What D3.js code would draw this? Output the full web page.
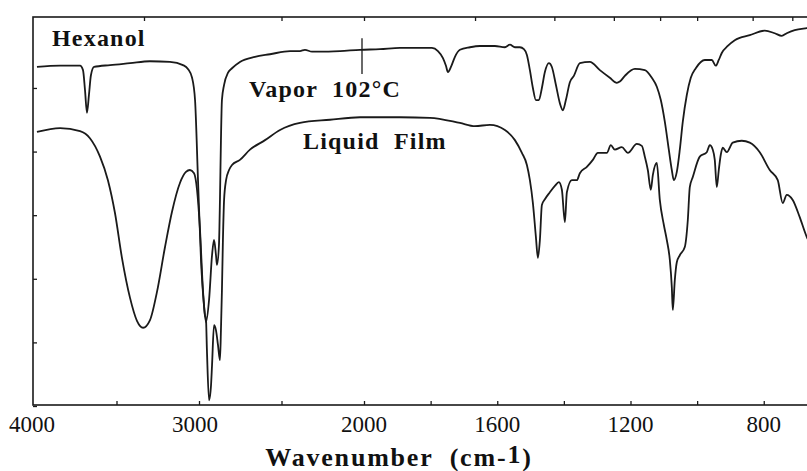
<!DOCTYPE html>
<html>
<head>
<meta charset="utf-8">
<script src="https://cdn.jsdelivr.net/npm/d3@7"></script>
<style>
  html, body { margin: 0; padding: 0; background: #fff; }
  svg { display: block; }
  text { font-family: "Liberation Serif", "Times New Roman", serif; fill: #111; white-space: pre; }
</style>
</head>
<body>
<svg id="chart" width="807" height="471"></svg>
<script>
// Hexanol IR spectra: vapour at 102 °C and liquid film.
// Each series: [wavenumber (cm-1), transmittance (arbitrary chart units)]
const vaporSpectrum = [
  [3982,53.3],[3842,53.5],[3721,53.5],[3703,52.8],[3691,49.7],[3679,46.1],[3667,48.9],[3655,52.0],[3636,53.3],
  [3539,53.6],[3418,53.9],[3297,54.2],[3176,54.1],[3097,53.6],[3067,53.0],[3042,51.6],[3024,48.1],[3006,35.5],
  [2988,23.0],[2970,15.9],[2958,13.2],[2939,16.7],[2921,23.7],[2909,26.1],[2897,23.7],[2891,22.2],[2879,25.3],
  [2873,32.4],[2867,41.8],[2861,48.1],[2848,50.5],[2824,52.4],[2800,53.1],[2752,54.1],[2661,54.9],[2570,55.3],
  [2448,55.8],[2388,55.8],[2358,56.0],[2315,55.7],[2267,55.7],[2145,55.8],[2024,56.0],[1952,56.1],[1892,56.3],
  [1832,56.3],[1796,56.3],[1778,55.8],[1763,54.7],[1754,53.5],[1748,52.5],[1739,53.3],[1727,54.9],[1712,56.0],
  [1682,56.4],[1652,56.6],[1607,56.6],[1577,56.4],[1562,56.8],[1547,56.4],[1532,56.4],[1520,56.1],[1511,55.2],
  [1502,52.8],[1493,50.0],[1484,48.1],[1475,48.1],[1466,50.0],[1457,52.5],[1445,53.9],[1436,53.3],[1424,50.5],
  [1412,47.6],[1403,46.5],[1394,48.1],[1382,50.9],[1370,51.9],[1352,53.9],[1322,54.1],[1292,52.8],[1262,51.6],
  [1241,50.8],[1232,51.0],[1217,51.9],[1187,53.0],[1157,52.8],[1136,51.6],[1121,50.2],[1109,48.1],[1097,44.7],
  [1085,40.3],[1076,37.1],[1070,35.5],[1061,36.8],[1052,40.3],[1043,44.7],[1031,48.9],[1019,51.6],[1004,53.1],
  [977,54.4],[956,54.4],[944,53.5],[935,54.4],[926,55.5],[908,56.6],[887,57.5],[842,58.3],[797,59.0],
  [767,58.6],[746,58.2],[731,58.6],[707,59.1],[671,59.4],[640,59.6]
];

const liquidSpectrum = [
  [3982,43.1],[3842,43.7],[3721,43.2],[3661,42.1],[3600,39.2],[3552,35.5],[3509,30.3],[3467,23.3],[3418,17.0],
  [3376,13.4],[3339,12.3],[3297,13.5],[3255,17.9],[3206,25.0],[3164,30.5],[3115,35.1],[3079,36.8],[3055,37.1],
  [3030,36.6],[3012,34.0],[2994,27.7],[2976,18.2],[2964,14.3],[2958,13.8],[2952,8.8],[2939,0.9],[2927,3.3],
  [2921,6.4],[2909,12.7],[2897,11.9],[2885,9.6],[2873,7.2],[2867,11.9],[2861,18.2],[2855,26.1],[2848,32.4],
  [2836,35.5],[2818,37.1],[2800,37.9],[2752,38.7],[2691,40.3],[2600,41.8],[2509,43.4],[2388,44.5],[2206,45.0],
  [2024,45.4],[1892,45.4],[1802,45.3],[1712,44.5],[1667,44.0],[1622,44.2],[1577,43.4],[1547,41.8],[1526,39.8],
  [1511,37.9],[1502,35.5],[1493,31.9],[1484,26.6],[1478,23.3],[1472,26.1],[1466,31.6],[1457,32.5],[1442,33.6],
  [1427,34.6],[1415,35.2],[1406,34.0],[1397,28.9],[1391,33.6],[1376,35.5],[1361,35.5],[1352,36.6],[1331,37.6],
  [1313,38.7],[1298,39.8],[1271,39.8],[1259,41.0],[1247,40.3],[1226,40.7],[1208,39.8],[1181,41.2],[1166,40.9],
  [1157,39.2],[1148,37.1],[1139,34.0],[1133,36.3],[1121,38.2],[1112,32.4],[1100,28.5],[1091,26.1],[1082,23.0],
  [1076,18.7],[1073,15.1],[1067,19.8],[1061,22.6],[1052,23.7],[1037,25.0],[1028,29.2],[1022,34.4],[1013,36.0],
  [992,39.2],[971,39.9],[962,41.0],[953,40.3],[947,38.7],[941,34.4],[935,37.1],[929,39.5],[923,40.6],
  [911,39.9],[893,41.4],[866,41.7],[842,41.4],[812,39.9],[782,37.1],[758,35.5],[743,31.9],[731,33.2],
  [713,32.4],[692,29.7],[671,26.6],[647,24.5]
];

// Axis ticks and labels
const xTickLabels = [4000, 3000, 2000, 1600, 1200, 800];
const xMinorTicks = [3500, 3000, 2500, 2000, 1800, 1600, 1400, 1200, 1000, 800];
const micronTicks = [3, 4, 5, 6, 7, 8, 9, 10, 12, 14];
const yTicks = [0, 10, 20, 30, 40, 50];
const scaleChangeAt = 2000;

const titleText = "Hexanol";
const vaporLabel = "Vapor  102\u00B0C";
const liquidLabel = "Liquid  Film";
const xAxisTitle = "Wavenumber  (cm-";

const svg = d3.select("#chart");
const frameL = 33, frameT = 17, frameB = 405, frameR = 905;

// Two-segment wavenumber scale: chart expands by 2x below 2000 cm-1
const x = d3.scaleLinear().domain([4000, 2000, 400]).range([34, 364, 897]);
const y = d3.scaleLinear().domain([0, 61]).range([406, 18]);

const ink = "#1a1a1a";

svg.append("defs").append("clipPath").attr("id", "plotclip")
  .append("rect").attr("x", frameL).attr("y", frameT - 4)
  .attr("width", frameR - frameL).attr("height", frameB - frameT + 8);

// frame
svg.append("rect")
  .attr("x", frameL).attr("y", frameT).attr("width", frameR - frameL).attr("height", frameB - frameT)
  .attr("fill", "none").attr("stroke", ink).attr("stroke-width", 1.6);

// bottom inward ticks
const gBottom = svg.append("g").attr("transform", `translate(0,${frameB})`)
  .call(d3.axisBottom(x).tickValues(xMinorTicks).tickSize(-4).tickFormat(""));
gBottom.select(".domain").remove();
gBottom.selectAll("line").attr("stroke", ink).attr("stroke-width", 1.3);

// top inward ticks at micron positions
const gTop = svg.append("g").attr("transform", `translate(0,${frameT})`)
  .call(d3.axisTop(x).tickValues(micronTicks.map(m => 10000 / m)).tickSize(-4).tickFormat(""));
gTop.select(".domain").remove();
gTop.selectAll("line").attr("stroke", ink).attr("stroke-width", 1.3);

// left inward ticks
const gLeft = svg.append("g").attr("transform", `translate(${frameL},0)`)
  .call(d3.axisLeft(y).tickValues(yTicks).tickSize(-4).tickFormat(""));
gLeft.select(".domain").remove();
gLeft.selectAll("line").attr("stroke", ink).attr("stroke-width", 1.3);

// tick labels
svg.append("g").selectAll("text").data(xTickLabels).join("text")
  .attr("x", d => d === 4000 ? x(d) - 2 : (d === 3000 ? x(d) - 4 : x(d)))
  .attr("y", 432)
  .attr("text-anchor", "middle")
  .attr("font-size", 23)
  .text(d => d);

// axis title with raised exponent
const xt = svg.append("text").attr("x", 399).attr("y", 466)
  .attr("text-anchor", "middle").attr("font-size", 26).attr("font-weight", "bold")
  .attr("letter-spacing", 1.8);
xt.append("tspan").text(xAxisTitle);
xt.append("tspan").attr("dy", -3).text("1");
xt.append("tspan").attr("dy", 3).text(")");

const line = d3.line()
  .x(d => x(d[0]))
  .y(d => y(d[1]))
  .curve(d3.curveMonotoneX);

const plot = svg.append("g").attr("clip-path", "url(#plotclip)");

plot.append("path").datum(vaporSpectrum)
  .attr("d", line).attr("fill", "none").attr("stroke", ink)
  .attr("stroke-width", 1.8).attr("stroke-linejoin", "round");

plot.append("path").datum(liquidSpectrum)
  .attr("d", line).attr("fill", "none").attr("stroke", ink)
  .attr("stroke-width", 1.8).attr("stroke-linejoin", "round");

// recorder mark where the wavenumber scale changes
plot.append("line")
  .attr("x1", x(scaleChangeAt) - 2).attr("x2", x(scaleChangeAt) - 2)
  .attr("y1", y(57.8)).attr("y2", y(52.2))
  .attr("stroke", ink).attr("stroke-width", 1.3);

// labels
const labelStyle = sel => sel.attr("font-size", 24).attr("font-weight", "bold").attr("letter-spacing", 1.2);
svg.append("text").attr("x", 52).attr("y", 46).call(labelStyle).text(titleText);
svg.append("text").attr("x", 249).attr("y", 97).call(labelStyle).text(vaporLabel);
svg.append("text").attr("x", 303).attr("y", 149).call(labelStyle).text(liquidLabel);
</script>
</body>
</html>
